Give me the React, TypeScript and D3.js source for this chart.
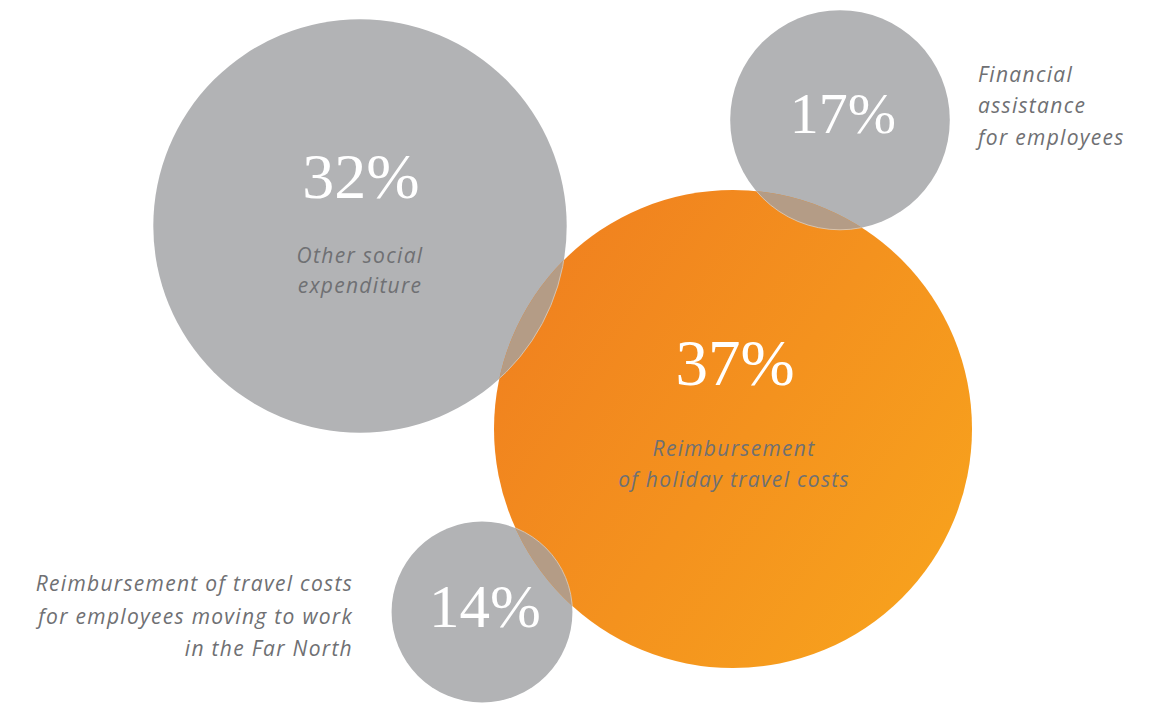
import React from "react";
import * as d3 from "d3";

const categories = [
  "Other social expenditure",
  "Reimbursement of holiday travel costs",
  "Financial assistance for employees",
  "Reimbursement of travel costs for employees moving to work in the Far North",
];
const values = [32, 37, 17, 14];
const highlight = [false, true, false, false];
const centerX = [360, 733, 840, 482];
const centerY = [226, 429, 120, 612];
const pctLabels = values.map((v) => `${v}%`);

const W = 1161;
const H = 703;
const GREY = "#b2b3b5";
const OVERLAP = "#b49c86";
const TEXT = "#6f7073";

export default function App() {
  const r = d3.scaleLinear().domain([0, 37]).range([0, 239]);
  const circles = values.map((v, i) => ({ i, v, x: centerX[i], y: centerY[i], r: r(v), hi: highlight[i] }));
  const orange = circles[1];
  const greys = circles.filter((c) => !c.hi);

  return (
    <svg width={W} height={H} style={{ display: "block", position: "absolute", left: 0, top: 0 }}>
      <defs>
        <linearGradient id="og" x1="0" y1="0.2" x2="1" y2="0.9">
          <stop offset="0" stopColor="#f0801f" />
          <stop offset="1" stopColor="#f8a41d" />
        </linearGradient>
        <clipPath id="clipOrange">
          <circle cx={orange.x} cy={orange.y} r={orange.r} />
        </clipPath>
      </defs>
      <rect width={W} height={H} fill="#fff" />
      {greys.map((c) => (
        <circle key={c.i} cx={c.x} cy={c.y} r={c.r} fill={GREY} />
      ))}
      <circle cx={orange.x} cy={orange.y} r={orange.r} fill="url(#og)" />
      <g clipPath="url(#clipOrange)">
        {greys.map((c) => (
          <circle key={c.i} cx={c.x} cy={c.y} r={c.r} fill={OVERLAP} stroke="#d9cfc4" strokeWidth={0.8} />
        ))}
      </g>
      {/* percentages */}
      <g fontFamily="'Liberation Serif', serif" fill="#ffffff" textAnchor="middle">
        <text x={361} y={198} fontSize={64}>{pctLabels[0]}</text>
        <text x={735} y={385} fontSize={65}>{pctLabels[1]}</text>
        <text x={843} y={133} fontSize={58}>{pctLabels[2]}</text>
        <text x={485} y={627} fontSize={61}>{pctLabels[3]}</text>
      </g>
      <g fontFamily="'Open Sans', Lato, sans-serif" fontStyle="italic" fill={TEXT} fontSize={21} letterSpacing={1.3}>
        <text x={360} textAnchor="middle">
          <tspan x={360} y={263}>Other social</tspan>
          <tspan x={360} y={293}>expenditure</tspan>
        </text>
        <text x={734} textAnchor="middle">
          <tspan x={734} y={456}>Reimbursement</tspan>
          <tspan x={734} y={487}>of holiday travel costs</tspan>
        </text>
        <text x={978} textAnchor="start">
          <tspan x={978} y={82}>Financial</tspan>
          <tspan x={978} y={113}>assistance</tspan>
          <tspan x={978} y={145}>for employees</tspan>
        </text>
        <text x={353} textAnchor="end">
          <tspan x={353} y={591}>Reimbursement of travel costs</tspan>
          <tspan x={353} y={624}>for employees moving to work</tspan>
          <tspan x={353} y={656}>in the Far North</tspan>
        </text>
      </g>
    </svg>
  );
}
